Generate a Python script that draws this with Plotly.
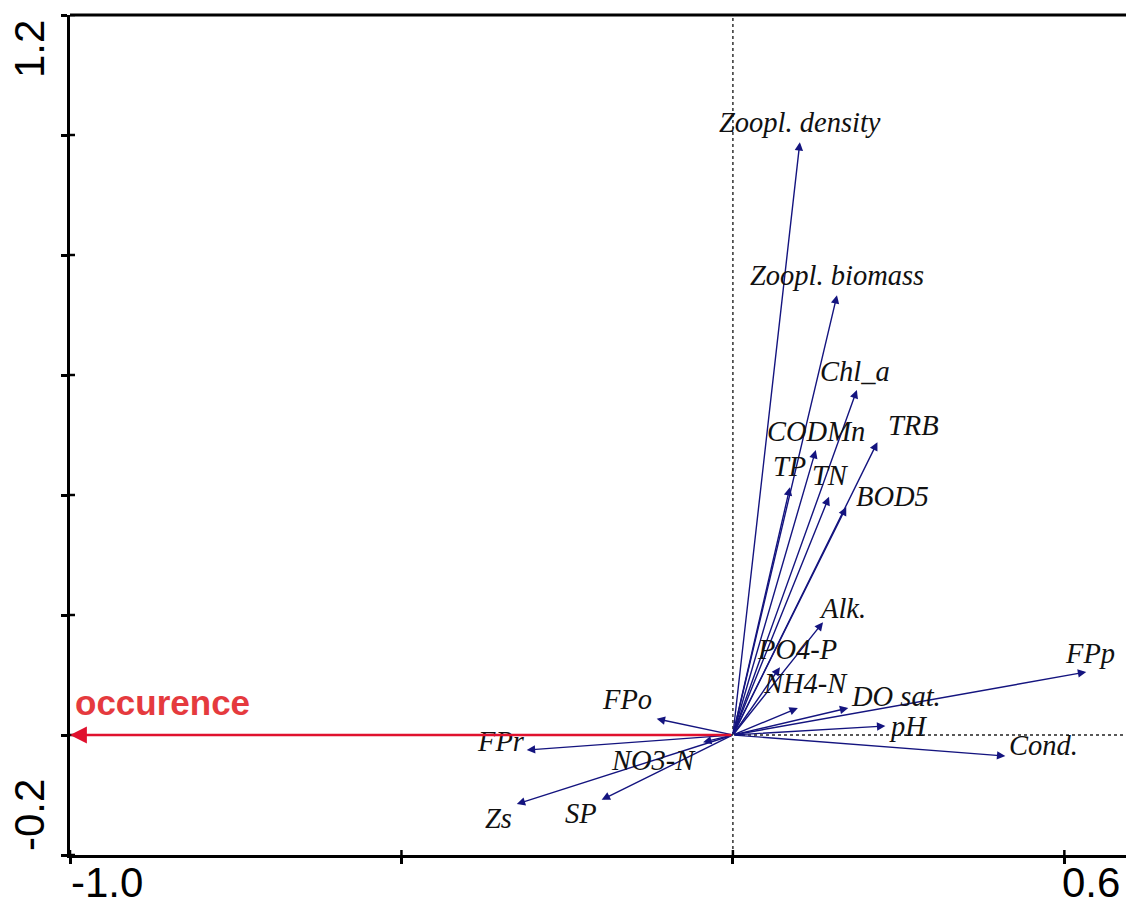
import plotly.graph_objects as go

# Explanatory variables: biplot scores on the first two ordination axes
variables = ["Zoopl. density", "Zoopl. biomass", "Chl_a", "TRB", "CODMn", "TP", "TN", "BOD5",
             "Alk.", "PO4-P", "NH4-N", "DO sat.", "pH", "FPp", "Cond.",
             "FPo", "FPr", "NO3-N", "Zs", "SP"]
axis1_scores = [0.101, 0.157, 0.187, 0.218, 0.125, 0.086, 0.145, 0.171,
                0.136, 0.071, 0.098, 0.174, 0.230, 0.533, 0.411,
                -0.115, -0.311, -0.045, -0.326, -0.198]
axis2_scores = [0.988, 0.733, 0.575, 0.488, 0.475, 0.413, 0.397, 0.380,
                0.188, 0.113, 0.045, 0.045, 0.015, 0.105, -0.035,
                0.027, -0.025, -0.012, -0.115, -0.108]

# Response variable
response = "occurence"
response_axis1 = -1.0
response_axis2 = 0.0

# Axes
x_ticks = [-1.0, -0.5, 0.0, 0.5]
y_ticks = [-0.2, 0.0, 0.2, 0.4, 0.6, 0.8, 1.0, 1.2]
x_end_labels = ["-1.0", "0.6"]
y_end_labels = ["-0.2", "1.2"]

# Label placement relative to each arrow tip (screen pixels, right / down)
label_offsets = {
    "Zoopl. density": (0, -18), "Zoopl. biomass": (0, -18), "Chl_a": (-2, -17),
    "TRB": (36, -15), "CODMn": (0, -17), "TP": (0, -19), "TN": (1, -19),
    "BOD5": (46, -9), "Alk.": (19, -12), "PO4-P": (17, -16), "NH4-N": (8, -23),
    "DO sat.": (48, -10), "pH": (23, 2), "FPp": (4, -17), "Cond.": (38, -9),
    "FPo": (-30, -17), "FPr": (-26, -7), "NO3-N": (-50, 20), "Zs": (-18, 16),
    "SP": (-21, 16),
}

ARROW = "#14147f"
RED_LINE = "#e0112e"
RED_TEXT = "#e53a3e"
X_MAX = 0.593

fig = go.Figure()

annotations = []
# Variable arrows from the origin
for name, ax1, ax2 in zip(variables, axis1_scores, axis2_scores):
    annotations.append(dict(
        x=ax1, y=ax2, ax=0, ay=0, xref="x", yref="y", axref="x", ayref="y",
        text="", showarrow=True, arrowhead=2, arrowsize=1.2, arrowwidth=1.4,
        arrowcolor=ARROW, standoff=0,
    ))
for name, ax1, ax2 in zip(variables, axis1_scores, axis2_scores):
    dx, dy = label_offsets[name]
    annotations.append(dict(
        x=ax1, y=ax2, xref="x", yref="y", text=name, showarrow=False,
        xanchor="center", yanchor="middle", xshift=dx, yshift=-dy + 2,
        font=dict(family="Liberation Serif", size=28.5, color="#111111", style="italic"),
    ))

# Response arrow
annotations.append(dict(
    x=response_axis1, y=response_axis2, ax=0, ay=0, xref="x", yref="y",
    axref="x", ayref="y", text="", showarrow=True, arrowhead=2,
    arrowsize=1.3, arrowwidth=2.6, arrowcolor=RED_LINE, standoff=0,
))
annotations.append(dict(
    x=response_axis1, y=response_axis2, xref="x", yref="y", text=response,
    showarrow=False, xanchor="left", yanchor="middle", xshift=3, yshift=33,
    font=dict(family="Liberation Sans", size=35, color=RED_TEXT, weight="bold"),
))

# End labels of the axes
tick_font = dict(family="Liberation Sans", size=42, color="#000000")
annotations.append(dict(x=x_ticks[0], y=0, xref="x", yref="paper", text=x_end_labels[0],
                        showarrow=False, xanchor="left", yanchor="middle",
                        xshift=-1, yshift=-27, font=tick_font))
annotations.append(dict(x=x_ticks[-1], y=0, xref="x", yref="paper", text=x_end_labels[1],
                        showarrow=False, xanchor="left", yanchor="middle",
                        xshift=-4, yshift=-27, font=tick_font))
annotations.append(dict(x=0, y=y_ticks[0], xref="paper", yref="y", text=y_end_labels[0],
                        showarrow=False, xanchor="center", yanchor="middle", textangle=-90,
                        xshift=-41, yshift=40, font=tick_font))
annotations.append(dict(x=0, y=y_ticks[-1], xref="paper", yref="y", text=y_end_labels[1],
                        showarrow=False, xanchor="center", yanchor="middle", textangle=-90,
                        xshift=-41, yshift=-34, font=tick_font))

shapes = []
# Dotted reference lines through the origin
shapes.append(dict(type="line", xref="x", yref="y", x0=0, x1=0, y0=y_ticks[0], y1=y_ticks[-1],
                   line=dict(color="#222222", width=1.4, dash="dot"), layer="below"))
shapes.append(dict(type="line", xref="x", yref="y", x0=x_ticks[0], x1=X_MAX, y0=0, y1=0,
                   line=dict(color="#222222", width=1.4, dash="dot"), layer="below"))
# Top frame line
shapes.append(dict(type="line", xref="paper", yref="paper", x0=0, x1=1, y0=1, y1=1,
                   line=dict(color="#000000", width=3)))
# Inner halves of the tick marks
for v in y_ticks:
    shapes.append(dict(type="line", xref="x", yref="y", xsizemode="pixel", xanchor=x_ticks[0],
                       x0=0, x1=5, y0=v, y1=v, line=dict(color="#000000", width=2.5)))
for v in x_ticks:
    shapes.append(dict(type="line", xref="x", yref="y", ysizemode="pixel", yanchor=y_ticks[0],
                       y0=0, y1=5, x0=v, x1=v, line=dict(color="#000000", width=2.5)))

axis_common = dict(showline=True, linecolor="#000000", linewidth=3, ticks="outside",
                   ticklen=6, tickwidth=2.5, tickcolor="#000000", showticklabels=False,
                   showgrid=False, zeroline=False, fixedrange=True)

fig.update_layout(
    width=1126, height=906,
    margin=dict(l=70, r=0, t=15, b=51),
    paper_bgcolor="white", plot_bgcolor="white",
    showlegend=False,
    xaxis=dict(range=[x_ticks[0], X_MAX], tickvals=x_ticks, **axis_common),
    yaxis=dict(range=[y_ticks[0], y_ticks[-1]], tickvals=y_ticks, **axis_common),
    annotations=annotations,
    shapes=shapes,
)

fig.write_html("out.html", config={"displayModeBar": False})
